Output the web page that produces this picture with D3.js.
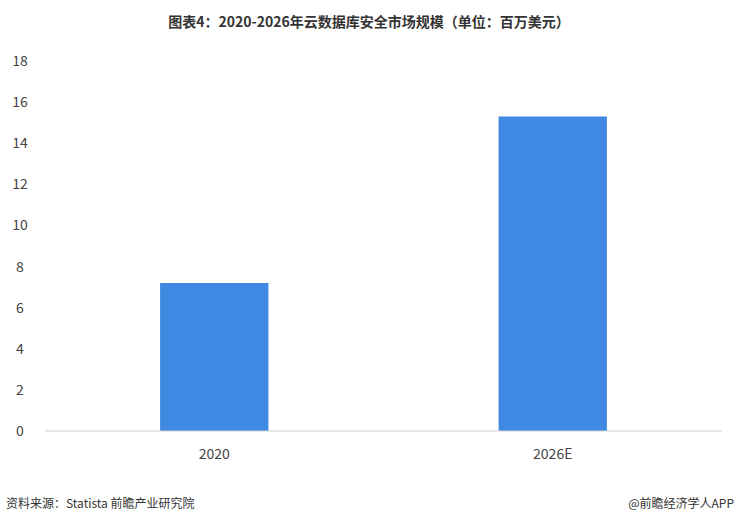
<!DOCTYPE html>
<html><head><meta charset="utf-8">
<script src="https://cdn.jsdelivr.net/npm/d3@7"></script>
<style>body{margin:0;background:#fff;font-family:"Noto Sans CJK SC","Noto Sans",sans-serif;}</style>
</head><body>
<svg id="c" width="739" height="525"></svg>
<script>
const categories = ["2020", "2026E"];
const values = [7.2, 15.3];
const yTicks = [0, 2, 4, 6, 8, 10, 12, 14, 16, 18];

const svg = d3.select("#c");
const x = d3.scaleBand().domain(categories).range([45, 722]).paddingInner(0.68).paddingOuter(0.34);
const y = d3.scaleLinear().domain([0, 18]).range([431, 61]);

svg.append("text").attr("x", 369).attr("y", 27).attr("text-anchor", "middle")
  .attr("font-size", 14).attr("font-weight", "bold").attr("fill", "#333")
  .text("图表4：2020-2026年云数据库安全市场规模（单位：百万美元）");

svg.append("g").selectAll("text").data(yTicks).join("text")
  .attr("x", 20).attr("y", d => y(d) + 5).attr("text-anchor", "middle")
  .attr("font-size", 14).attr("fill", "#444").text(d => d);

svg.append("g").selectAll("rect").data(values).join("rect")
  .attr("x", (d, i) => x(categories[i])).attr("width", x.bandwidth())
  .attr("y", d => y(d)).attr("height", d => y(0) - y(d)).attr("fill", "#4089e3");

svg.append("line").attr("x1", 45).attr("x2", 722).attr("y1", y(0)).attr("y2", y(0))
  .attr("stroke", "#d0d0d0");

svg.append("g").selectAll("text").data(categories).join("text")
  .attr("x", d => x(d) + x.bandwidth() / 2).attr("y", 459).attr("text-anchor", "middle")
  .attr("font-size", 14).attr("fill", "#444").text(d => d);

svg.append("text").attr("x", 6).attr("y", 508).attr("font-size", 12).attr("fill", "#333")
  .text("资料来源：Statista 前瞻产业研究院");
svg.append("text").attr("x", 734).attr("y", 508).attr("text-anchor", "end").attr("font-size", 12).attr("fill", "#333")
  .text("@前瞻经济学人APP");
</script>
</body></html>
